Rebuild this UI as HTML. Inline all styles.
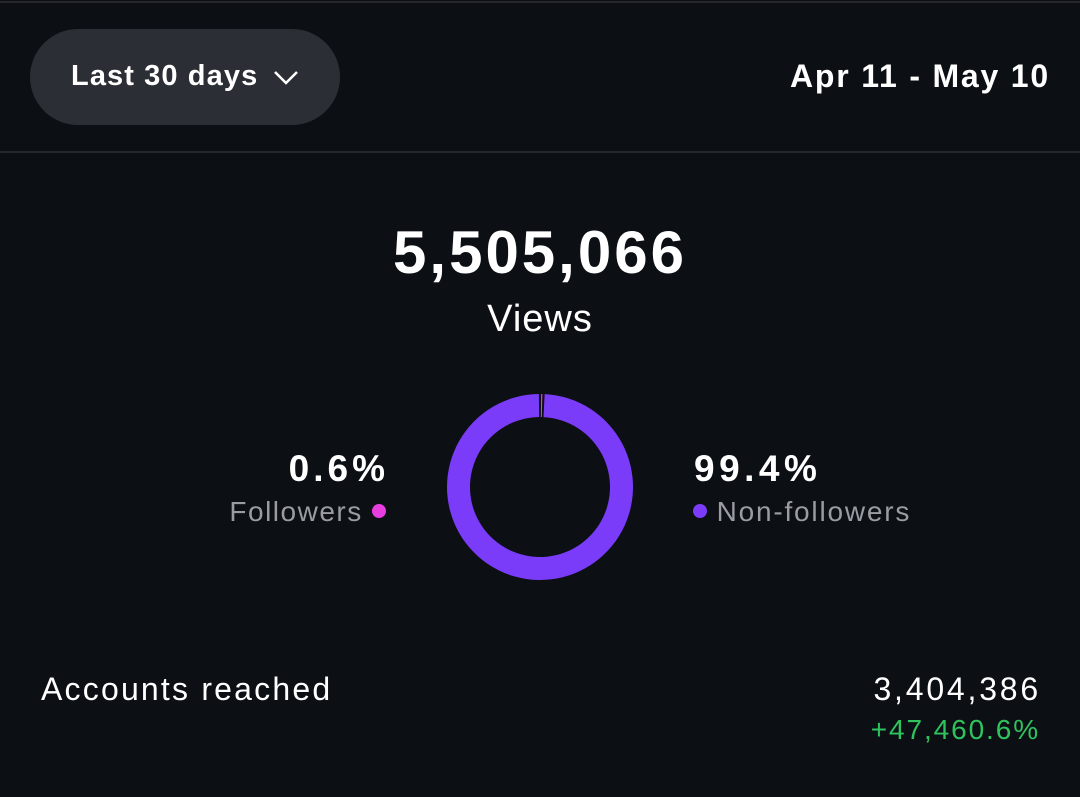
<!DOCTYPE html>
<html><head><meta charset="utf-8"><style>
body{margin:0;width:1080px;height:797px;background:#0c0f14;font-family:"Liberation Sans",sans-serif;color:#fff;position:relative;overflow:hidden}
.a{position:absolute;white-space:nowrap}
</style></head><body>
<div class="a" style="left:0;top:1px;width:1080px;height:2px;background:#25272d"></div>
<div class="a" style="left:30px;top:29px;width:310px;height:96px;border-radius:48px;background:#2b2f35"></div>
<div class="a" style="left:71px;top:60px;font-size:29px;font-weight:bold;letter-spacing:1.1px">Last 30 days</div>
<svg class="a" style="left:273px;top:70px" width="26" height="16"><polyline points="2,2 13,13 24,2" fill="none" stroke="#fff" stroke-width="2.5"/></svg>
<div class="a" style="right:30px;top:58px;font-size:32px;font-weight:bold;letter-spacing:1.8px">Apr 11 - May 10</div>
<div class="a" style="left:0;top:151px;width:1080px;height:2px;background:#25272d"></div>
<div class="a" style="left:0;width:1080px;text-align:center;top:218px;font-size:60px;font-weight:bold;letter-spacing:3px">5,505,066</div>
<div class="a" style="left:0;width:1080px;text-align:center;top:298px;font-size:38px;letter-spacing:1px">Views</div>
<svg class="a" id="donut" style="left:440px;top:387px" width="200" height="200"></svg>
<div class="a" style="right:691px;top:448px;font-size:37px;font-weight:bold;letter-spacing:4px">0.6%</div>
<div class="a" style="right:694px;top:496px;font-size:28px;color:#9a9ca3;letter-spacing:1.5px">Followers <span style="display:inline-block;width:14px;height:14px;border-radius:50%;background:#e83ee0;vertical-align:3px"></span></div>
<div class="a" style="left:694px;top:448px;font-size:37px;font-weight:bold;letter-spacing:4.5px">99.4%</div>
<div class="a" style="left:693px;top:496px;font-size:28px;color:#9a9ca3;letter-spacing:1.8px"><span style="display:inline-block;width:14px;height:14px;border-radius:50%;background:#7b3cfa;vertical-align:3px"></span> Non-followers</div>
<div class="a" style="left:41px;top:671px;font-size:32px;letter-spacing:2.2px">Accounts reached</div>
<div class="a" style="right:39px;top:671px;font-size:32px;letter-spacing:2.8px">3,404,386</div>
<div class="a" style="right:40px;top:714px;font-size:28px;color:#2fc35e;letter-spacing:1.9px">+47,460.6%</div>
<script>
const segments=["Followers","Non-followers"];
const shares=[0.6,99.4];
const colors=["#e83ee0","#7b3cfa"];
const svg=document.getElementById('donut');
const cx=100,cy=100,ro=93,ri=70,gapDeg=1.4;
const total=shares.reduce((a,b)=>a+b,0);
function pt(r,a){const t=(a-90)*Math.PI/180;return [cx+r*Math.cos(t),cy+r*Math.sin(t)];}
let start=0;
shares.forEach((v,i)=>{
  const sweep=v/total*360;
  let a0=start+gapDeg/2,a1=start+sweep-gapDeg/2;
  start+=sweep;
  if(a1<=a0){return;}
  const large=(a1-a0)>180?1:0;
  const [x0,y0]=pt(ro,a0),[x1,y1]=pt(ro,a1),[x2,y2]=pt(ri,a1),[x3,y3]=pt(ri,a0);
  const p=document.createElementNS('http://www.w3.org/2000/svg','path');
  p.setAttribute('d',`M${x0},${y0}A${ro},${ro} 0 ${large} 1 ${x1},${y1}L${x2},${y2}A${ri},${ri} 0 ${large} 0 ${x3},${y3}Z`);
  p.setAttribute('fill',colors[i]);
  
  
  svg.appendChild(p);
});
</script>
</body></html>
